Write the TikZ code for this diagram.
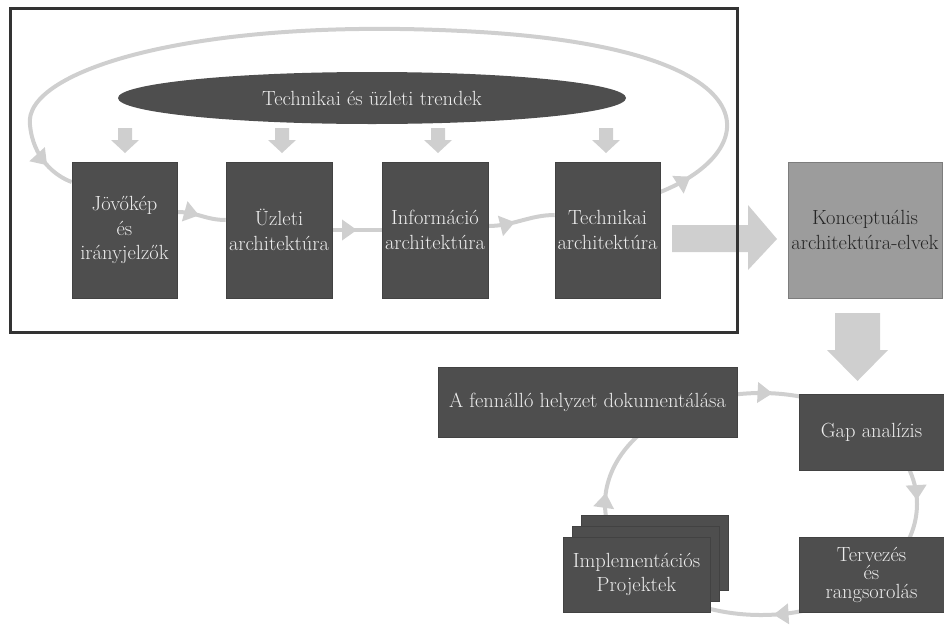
\documentclass[tikz,border=0pt]{standalone}
\usetikzlibrary{arrows.meta,decorations.markings,calc,shapes.geometric}
\definecolor{boxgray}{HTML}{4E4E4E}
\definecolor{boxtext}{HTML}{EDEDED}
\definecolor{flowgray}{HTML}{CFCFCF}
\definecolor{konfill}{HTML}{9C9C9C}
\definecolor{kontext}{HTML}{262626}
\definecolor{framecol}{HTML}{333333}
\newcommand{\fsz}{\fontsize{20.5}{24.5}\selectfont}
\pgfdeclarelayer{bg}
\pgfsetlayers{bg,main}
\tikzset{
  darkbox/.style={fill=boxgray, draw=boxgray!85!black, line width=0.6pt, text=boxtext, inner sep=0pt, align=center, font=\fsz},
  lightbox/.style={fill=konfill, draw=konfill!80!black, line width=0.6pt, text=kontext, inner sep=0pt, align=center, font=\fsz},
  flow/.style={color=flowgray, line width=4pt, postaction={decorate},
    decoration={markings, mark=at position #1 with {\arrow{Triangle[length=15pt,width=20pt]}}}},
  flowtwo/.style 2 args={color=flowgray, line width=4pt, postaction={decorate},
    decoration={markings, mark=at position #1 with {\arrow{Triangle[length=15pt,width=20pt]}},
      mark=at position #2 with {\arrow{Triangle[length=15pt,width=20pt]}}}},
  blockarrow/.style={fill=flowgray, draw=none},
}
\begin{document}
\begin{tikzpicture}[x=1pt,y=-1pt]
\useasboundingbox (0,0) rectangle (944,627);

% frame
\draw[framecol, line width=3pt] (10,8) rectangle (737,332);

% ellipse
\node[ellipse, fill=boxgray, text=boxtext, minimum width=508pt, minimum height=52pt, inner sep=0pt, font=\fsz] (trend) at (372,98) {Technikai és üzleti trendek};

% top row boxes
\node[darkbox, minimum width=105pt, minimum height=136pt] (jov) at (124.5,230) {Jövőkép\\és\\irányjelzők};
\node[darkbox, minimum width=106pt, minimum height=136pt] (uzl) at (279,230) {Üzleti\\architektúra};
\node[darkbox, minimum width=106pt, minimum height=136pt] (inf) at (435,230) {Információ\\architektúra};
\node[darkbox, minimum width=105pt, minimum height=136pt] (tech) at (607.5,230) {Technikai\\architektúra};
\node[lightbox, minimum width=154pt, minimum height=136pt] (konc) at (865,230) {Konceptuális\\architektúra-elvek};

% bottom boxes
\node[darkbox, minimum width=299pt, minimum height=70pt] (fenn) at (587.5,402) {A fennálló helyzet dokumentálása};
\node[darkbox, minimum width=145pt, minimum height=76pt] (gap) at (871.5,432) {Gap analízis};
\node[darkbox, minimum width=145pt, minimum height=75pt] (terv) at (871.5,574.5) {Tervezés\\[-6pt]és\\[-6pt]rangsorolás};
\node[darkbox, minimum width=147pt, minimum height=75pt] (implb) at (655,552.5) {};
\node[darkbox, minimum width=147pt, minimum height=75pt] (implm) at (645.5,563.5) {};
\node[darkbox, minimum width=147pt, minimum height=75pt] (impl) at (636.5,574.5) {Implementációs\\Projektek};

\begin{pgfonlayer}{bg}
% small down arrows from the trends ellipse
\foreach \cx/\nm in {125/jov,282/uzl,438/inf,606/tech}{
  \fill[blockarrow] (\cx-7,128) -- (\cx+7,128) -- (\cx+7,140) -- (\cx+14,140) -- (\cx,153) -- (\cx-14,140) -- (\cx-7,140) -- cycle;
}
% big arrow to conceptual box
\fill[blockarrow] (672,225) -- (748,225) -- (748,205) -- (777,239) -- (748,270) -- (748,252) -- (672,252) -- cycle;
% big down arrow
\fill[blockarrow] (835,313) -- (880,313) -- (880,350) -- (888,350) -- (857.5,381) -- (827,350) -- (835,350) -- cycle;

% flow between boxes
\draw[flow=0.45] ([yshift=18pt]jov.east) .. controls +(20,0) and +(-20,0) .. ([yshift=10pt]uzl.west);
\draw[flow=0.5] (uzl.east) -- (inf.west);
\draw[flow=0.4] ([yshift=4pt]inf.east) .. controls +(25,0) and +(-25,0) .. ([yshift=15pt]tech.west);

% big loop back
\draw[flowtwo={34pt}{-30pt}] ([yshift=38pt]tech.east) .. controls (765,150) and (775,50) .. (480,32)
   .. controls (200,15) and (22,70) .. (30,125) .. controls (33,158) and (55,176) .. ([yshift=48pt]jov.west);

% cycle
\coordinate (cyc) at (761,504);
\draw[flow=0.55] ($(cyc)+(-100:156 and 111)$) arc[start angle=-100, end angle=-74, x radius=156, y radius=111];
\draw[flow=0.45] ($(cyc)+(-20:156 and 111)$) arc[start angle=-20, end angle=20, x radius=156, y radius=111];
\draw[flow=0.3] ($(cyc)+(74:156 and 111)$) arc[start angle=74, end angle=112, x radius=156, y radius=111];
\draw[flow=0.3] ($(cyc)+(170:156 and 111)$) arc[start angle=170, end angle=220, x radius=156, y radius=111];
\end{pgfonlayer}
\end{tikzpicture}
\end{document}
